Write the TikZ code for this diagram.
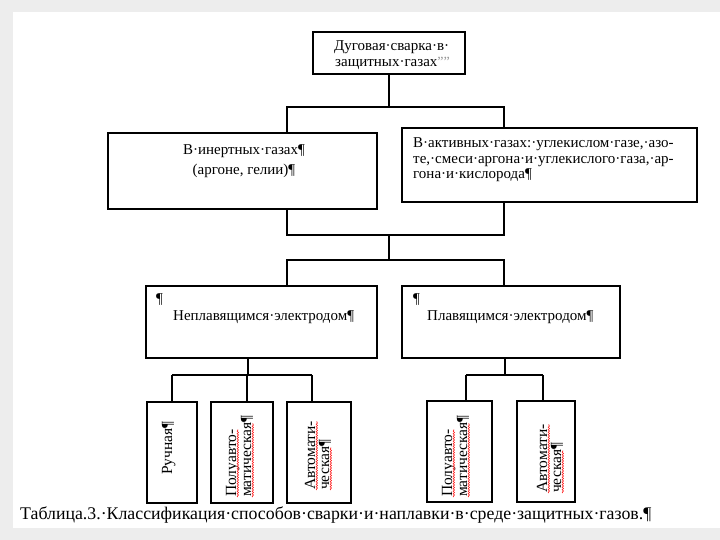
\documentclass[tikz,border=0pt]{standalone}
\usepackage{fontspec}
\setmainfont{Liberation Serif}
\usetikzlibrary{decorations.pathmorphing}
\newcommand\fz[2]{\fontsize{#1}{#2}\selectfont}
\begin{document}
\begin{tikzpicture}[x=1pt,y=-1pt,
  box/.style={draw, line width=1.4pt, inner sep=0pt, fill=white},
  conn/.style={line width=1.2pt},
  trunk/.style={line width=2.6pt},
  txt/.style={inner sep=0pt, anchor=base west, font=\fz{15}{17}},
  ctxt/.style={inner sep=0pt, anchor=base, font=\fz{15}{17}},
  vtxt/.style={inner sep=0pt, anchor=base west, rotate=90, font=\fz{15.5}{17}},
  squig/.style={draw=red, line width=0.5pt, decorate, decoration={snake, amplitude=0.7pt, segment length=2.5pt}}]
\useasboundingbox (0,0) rectangle (720,540);
\fill[gray!14] (0,0) rectangle (720,540);
\fill[white] (13,12) rectangle (720,528);

% boxes
\node[box, minimum width=152pt, minimum height=42pt] (top) at (389,53) {};
\node[box, minimum width=269pt, minimum height=76pt] (L1) at (242.5,171) {};
\node[box, minimum width=295pt, minimum height=74pt] (R1) at (549.5,165) {};
\node[box, minimum width=231pt, minimum height=72pt] (L2) at (261.5,322) {};
\node[box, minimum width=218pt, minimum height=72pt] (R2) at (511,322) {};
\node[box, minimum width=50pt, minimum height=101pt] (B1) at (172,452.5) {};
\node[box, minimum width=62pt, minimum height=101pt] (B2) at (242,452.5) {};
\node[box, minimum width=64pt, minimum height=101pt] (B3) at (319,452.5) {};
\node[box, minimum width=65pt, minimum height=101pt] (B4) at (459.5,451.5) {};
\node[box, minimum width=58pt, minimum height=101pt] (B5) at (546,451.5) {};

% texts
\node[txt] (t1) at (334,51) {Дуговая·сварка·в·};
\node[txt] (t2) at (335,67) {защитных·газах{\color{gray!80}\fz{14}{14}\char"27\char"27\char"27\char"27}};
\node[ctxt] (l1a) at (244,155) {В·инертных·газах¶};
\node[ctxt] (l1b) at (244,175) {(аргоне, гелии)¶};
\node[txt] (r1a) at (413,148) {В·активных·газах:·углекислом·газе,·азо-};
\node[txt] (r1b) at (413,163.5) {те,·смеси·аргона·и·углекислого·газа,·ар-};
\node[txt] (r1c) at (413,179) {гона·и·кислорода¶};
\node[txt] (l2p) at (156,303) {¶};
\node[txt] (l2t) at (173,320) {Неплавящимся·электродом¶};
\node[txt] (r2p) at (413,303) {¶};
\node[txt] (r2t) at (427,320) {Плавящимся·электродом¶};

\node[vtxt] (v1) at (172,475) {Ручная¶};
\node[vtxt] (v2a) at (236,497) {Полуавто-};
\node[vtxt] (v2b) at (251,497) {матическая¶};
\node[vtxt] (v3a) at (315,490) {Автомати-};
\node[vtxt] (v3b) at (329,490) {ческая¶};
\node[vtxt] (v4a) at (452,497) {Полуавто-};
\node[vtxt] (v4b) at (467,497) {матическая¶};
\node[vtxt] (v5a) at (547,493) {Автомати-};
\node[vtxt] (v5b) at (561,493) {ческая¶};

\foreach \n in {v2a,v3a,v4a,v5a}
  \draw[squig] ([xshift=1.8pt]\n.base west) -- ([xshift=1.8pt]\n.base east);
\foreach \n in {v2b,v3b,v4b,v5b}
  \draw[squig] ([xshift=1.8pt]\n.base west) -- ([xshift=1.8pt,yshift=-8pt]\n.base east);

\node[inner sep=0pt, anchor=base west, font=\fz{17.8}{19}] (cap) at (20,519)
  {Таблица.3.·Классификация·способов·сварки·и·наплавки·в·среде·защитных·газов.¶};

% connectors
\coordinate (hA) at (0,107);
\coordinate (hB) at (0,235);
\coordinate (hC) at (0,260);
\coordinate (hD) at (0,375);
\coordinate (xL) at (287,0);
\coordinate (xM) at (389,0);
\coordinate (xR) at (504,0);
\coordinate (xl2) at (248,0);
\coordinate (xr2) at (505,0);
\coordinate (xb2) at (247,0);
\coordinate (xb3) at (312,0);
\coordinate (xb4) at (466,0);
\coordinate (xb5) at (543,0);

\draw[trunk] (top.south) -- (top.south |- hA);
\draw[conn] (L1.north -| xL) -- (xL |- hA) -- (xR |- hA) -- (R1.north -| xR);
\draw[conn] (L1.south -| xL) -- (xL |- hB) -- (xR |- hB) -- (R1.south -| xR);
\draw[trunk] (xM |- hB) -- (xM |- hC);
\draw[conn] (L2.north -| xL) -- (xL |- hC) -- (xR |- hC) -- (R2.north -| xR);

\draw[conn] (L2.south -| xl2) -- (xl2 |- hD);
\draw[conn] (B1.north |- hD) -- (xb3 |- hD);
\draw[trunk] (B1.north |- hD) -- (B1.north);
\draw[conn] (xb2 |- hD) -- (B2.north -| xb2);
\draw[conn] (xb3 |- hD) -- (B3.north -| xb3);

\draw[conn] (R2.south -| xr2) -- (xr2 |- hD);
\draw[conn] (xb4 |- hD) -- (xb5 |- hD);
\draw[conn] (xb4 |- hD) -- (B4.north -| xb4);
\draw[conn] (xb5 |- hD) -- (B5.north -| xb5);
\end{tikzpicture}
\end{document}
